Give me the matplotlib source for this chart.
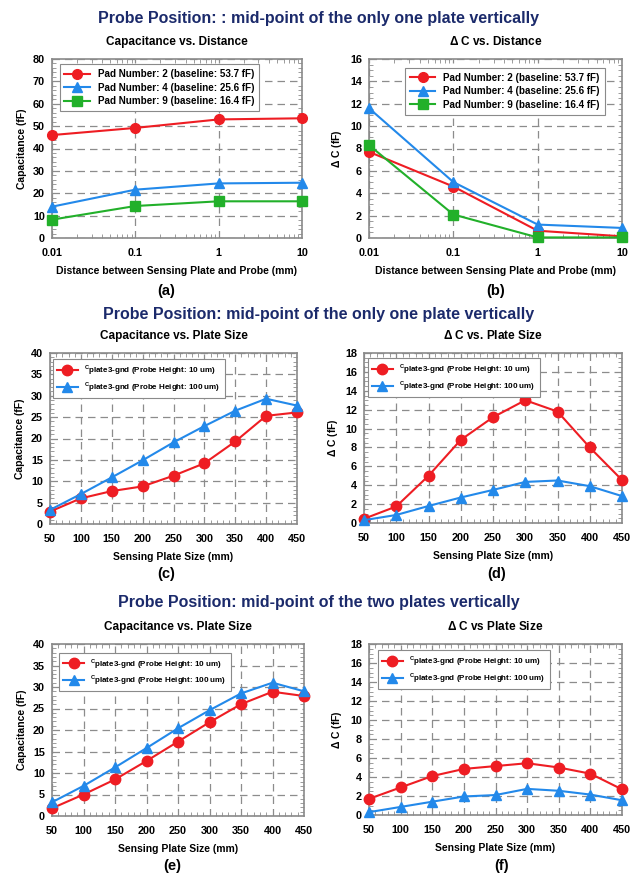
import numpy as np
import matplotlib
matplotlib.use("Agg")
import matplotlib.pyplot as plt
from matplotlib.ticker import MultipleLocator, LogLocator, NullFormatter

plt.rcParams['font.family'] = ['Liberation Sans', 'DejaVu Sans']
plt.rcParams['font.weight'] = 'bold'
plt.rcParams['mathtext.fontset'] = 'custom'
plt.rcParams['mathtext.rm'] = 'Liberation Sans:bold'
plt.rcParams['mathtext.bf'] = 'Liberation Sans:bold'

# ---- data ----
distance = [0.01, 0.1, 1, 10]
cap_pad2 = [46.0, 49.2, 53.0, 53.5]
cap_pad4 = [14.0, 21.6, 24.4, 24.7]
cap_pad9 = [8.2, 14.3, 16.4, 16.4]
dc_pad2 = [7.7, 4.6, 0.65, 0.15]
dc_pad4 = [11.6, 5.0, 1.2, 0.9]
dc_pad9 = [8.3, 2.1, 0.05, 0.05]

plate_size = [50, 100, 150, 200, 250, 300, 350, 400, 450]
cap_one_10 = [2.9, 6.0, 7.7, 8.8, 11.3, 14.2, 19.3, 25.3, 26.1]
cap_one_100 = [3.3, 7.0, 10.9, 14.9, 19.1, 22.9, 26.5, 29.3, 27.7]
dc_one_10 = [0.45, 1.75, 5.0, 8.8, 11.2, 13.0, 11.8, 8.0, 4.55]
dc_one_100 = [0.3, 0.85, 1.8, 2.7, 3.5, 4.35, 4.5, 3.9, 2.85]
cap_two_10 = [1.8, 5.0, 8.5, 12.8, 17.3, 21.8, 26.0, 28.9, 27.9]
cap_two_100 = [3.2, 7.0, 11.3, 15.8, 20.4, 24.6, 28.5, 31.0, 29.0]
dc_two_10 = [1.7, 2.9, 4.1, 4.85, 5.15, 5.45, 5.0, 4.35, 2.7]
dc_two_100 = [0.3, 0.85, 1.4, 1.95, 2.1, 2.75, 2.55, 2.15, 1.55]

pad_labels = ['Pad Number: 2 (baseline: 53.7 fF)',
              'Pad Number: 4 (baseline: 25.6 fF)',
              'Pad Number: 9 (baseline: 16.4 fF)']
probe_labels = [r'$^{\mathrm{C}}\mathbf{plate3‐gnd}$ (Probe Height: 10 um)',
                r'$^{\mathrm{C}}\mathbf{plate3‐gnd}$ (Probe Height: 100 um)']

RED = '#ee1d23'
BLUE = '#2389ea'
GREEN = '#22b02a'
NAVY = '#1b2a6b'
GRID = '#8c8c8c'

W, H = 638, 876
fig = plt.figure(figsize=(W / 100, H / 100), dpi=100)


def px_axes(l, t, r, b):
    return fig.add_axes([l / W, 1 - b / H, (r - l) / W, (b - t) / H])


def style(ax, ylim, ystep, yminor, ylabel, xlabel, title):
    ax.set_ylim(*ylim)
    ax.yaxis.set_major_locator(MultipleLocator(ystep))
    ax.yaxis.set_minor_locator(MultipleLocator(yminor))
    ax.grid(True, which='major', color=GRID, linestyle=(0, (6, 4)), linewidth=0.9)
    ax.tick_params(which='both', direction='in', top=True, right=True,
                   labelsize=7.8, color=GRID)
    ax.tick_params(which='major', length=0)
    ax.tick_params(axis='x', which='major', pad=7)
    ax.tick_params(axis='y', which='major', pad=5)
    ax.tick_params(which='minor', length=3)
    for s in ax.spines.values():
        s.set_color('#8a8a8a')
        s.set_linewidth(1.2)
    ax.set_ylabel(ylabel, fontsize=7.5, fontweight='bold')
    ax.set_xlabel(xlabel, fontsize=7.5, fontweight='bold', labelpad=6)
    ax.set_title(title, fontsize=8.5, fontweight='bold', pad=10)
    for lab in ax.get_xticklabels() + ax.get_yticklabels():
        lab.set_fontweight('bold')


def legend(ax, anchor, fs):
    leg = ax.legend(loc='upper left', bbox_to_anchor=anchor, fontsize=fs,
                    fancybox=False, edgecolor='#8a8a8a', framealpha=1,
                    handlelength=2.6, borderpad=0.5, labelspacing=0.35,
                    borderaxespad=0)
    leg.get_frame().set_linewidth(0.8)


def distance_panel(ax, s2, s4, s9, ylim, ystep, yminor, ylabel, title, anchor):
    ax.plot(distance, s2, '-o', color=RED, lw=1.5, ms=7, label=pad_labels[0], clip_on=False, zorder=5)
    ax.plot(distance, s4, '-^', color=BLUE, lw=1.5, ms=7, label=pad_labels[1], clip_on=False, zorder=5)
    ax.plot(distance, s9, '-s', color=GREEN, lw=1.5, ms=6.5, label=pad_labels[2], clip_on=False, zorder=5)
    ax.set_xscale('log')
    ax.set_xlim(0.01, 10)
    ax.xaxis.set_minor_locator(LogLocator(base=10, subs=np.arange(2, 10)))
    ax.xaxis.set_minor_formatter(NullFormatter())
    ax.set_xticks(distance, ['0.01', '0.1', '1', '10'])
    style(ax, ylim, ystep, yminor, ylabel,
          'Distance between Sensing Plate and Probe (mm)', title)
    legend(ax, anchor, 7.1)


def plate_panel(ax, s10, s100, ylim, ystep, yminor, ylabel, title, anchor):
    ax.plot(plate_size, s10, '-o', color=RED, lw=1.5, ms=7.5, label=probe_labels[0], clip_on=False, zorder=5)
    ax.plot(plate_size, s100, '-^', color=BLUE, lw=1.5, ms=7, label=probe_labels[1], clip_on=False, zorder=5)
    ax.set_xlim(50, 450)
    ax.xaxis.set_major_locator(MultipleLocator(50))
    ax.xaxis.set_minor_locator(MultipleLocator(10))
    style(ax, ylim, ystep, yminor, ylabel, 'Sensing Plate Size (mm)', title)
    legend(ax, anchor, 5.8)


ax_a = px_axes(52, 59, 302, 238)
distance_panel(ax_a, cap_pad2, cap_pad4, cap_pad9, (0, 80), 10, 2,
               'Capacitance (fF)', 'Capacitance vs. Distance', (0.03, 0.97))
ax_b = px_axes(369, 59, 622, 238)
distance_panel(ax_b, dc_pad2, dc_pad4, dc_pad9, (0, 16), 2, 0.5,
               r'$\Delta$ C (fF)', r'$\Delta$ C vs. Distance', (0.142, 0.95))

ax_c = px_axes(50, 353, 297, 524)
plate_panel(ax_c, cap_one_10, cap_one_100, (0, 40), 5, 1,
            'Capacitance (fF)', 'Capacitance vs. Plate Size', (0.012, 0.965))
ax_d = px_axes(364, 353, 622, 523)
plate_panel(ax_d, dc_one_10, dc_one_100, (0, 18), 2, 0.5,
            r'$\Delta$ C (fF)', r'$\Delta$ C vs. Plate Size', (0.015, 0.97))

ax_e = px_axes(52, 644, 304, 816)
plate_panel(ax_e, cap_two_10, cap_two_100, (0, 40), 5, 1,
            'Capacitance (fF)', 'Capacitance vs. Plate Size', (0.028, 0.95))
ax_f = px_axes(369, 644, 622, 815)
plate_panel(ax_f, dc_two_10, dc_two_100, (0, 18), 2, 0.5,
            r'$\Delta$ C (fF)', r'$\Delta$ C vs Plate Size', (0.035, 0.965))

# headers and panel tags
headers = [('Probe Position: : mid-point of the only one plate vertically', 18),
           ('Probe Position: mid-point of the only one plate vertically', 314),
           ('Probe Position: mid-point of the two plates vertically', 602)]
for text, y in headers:
    fig.text(0.5, 1 - y / H, text, ha='center', va='center',
             fontsize=11.5, fontweight='bold', color=NAVY)

for tag, x, y in [('(a)', 166, 291), ('(b)', 496, 291), ('(c)', 166, 574),
                  ('(d)', 497, 574), ('(e)', 172, 866), ('(f)', 502, 866)]:
    fig.text(x / W, 1 - y / H, tag, ha='center', va='center', fontsize=10.5, fontweight='bold')

fig.savefig('out.png', dpi=100)
